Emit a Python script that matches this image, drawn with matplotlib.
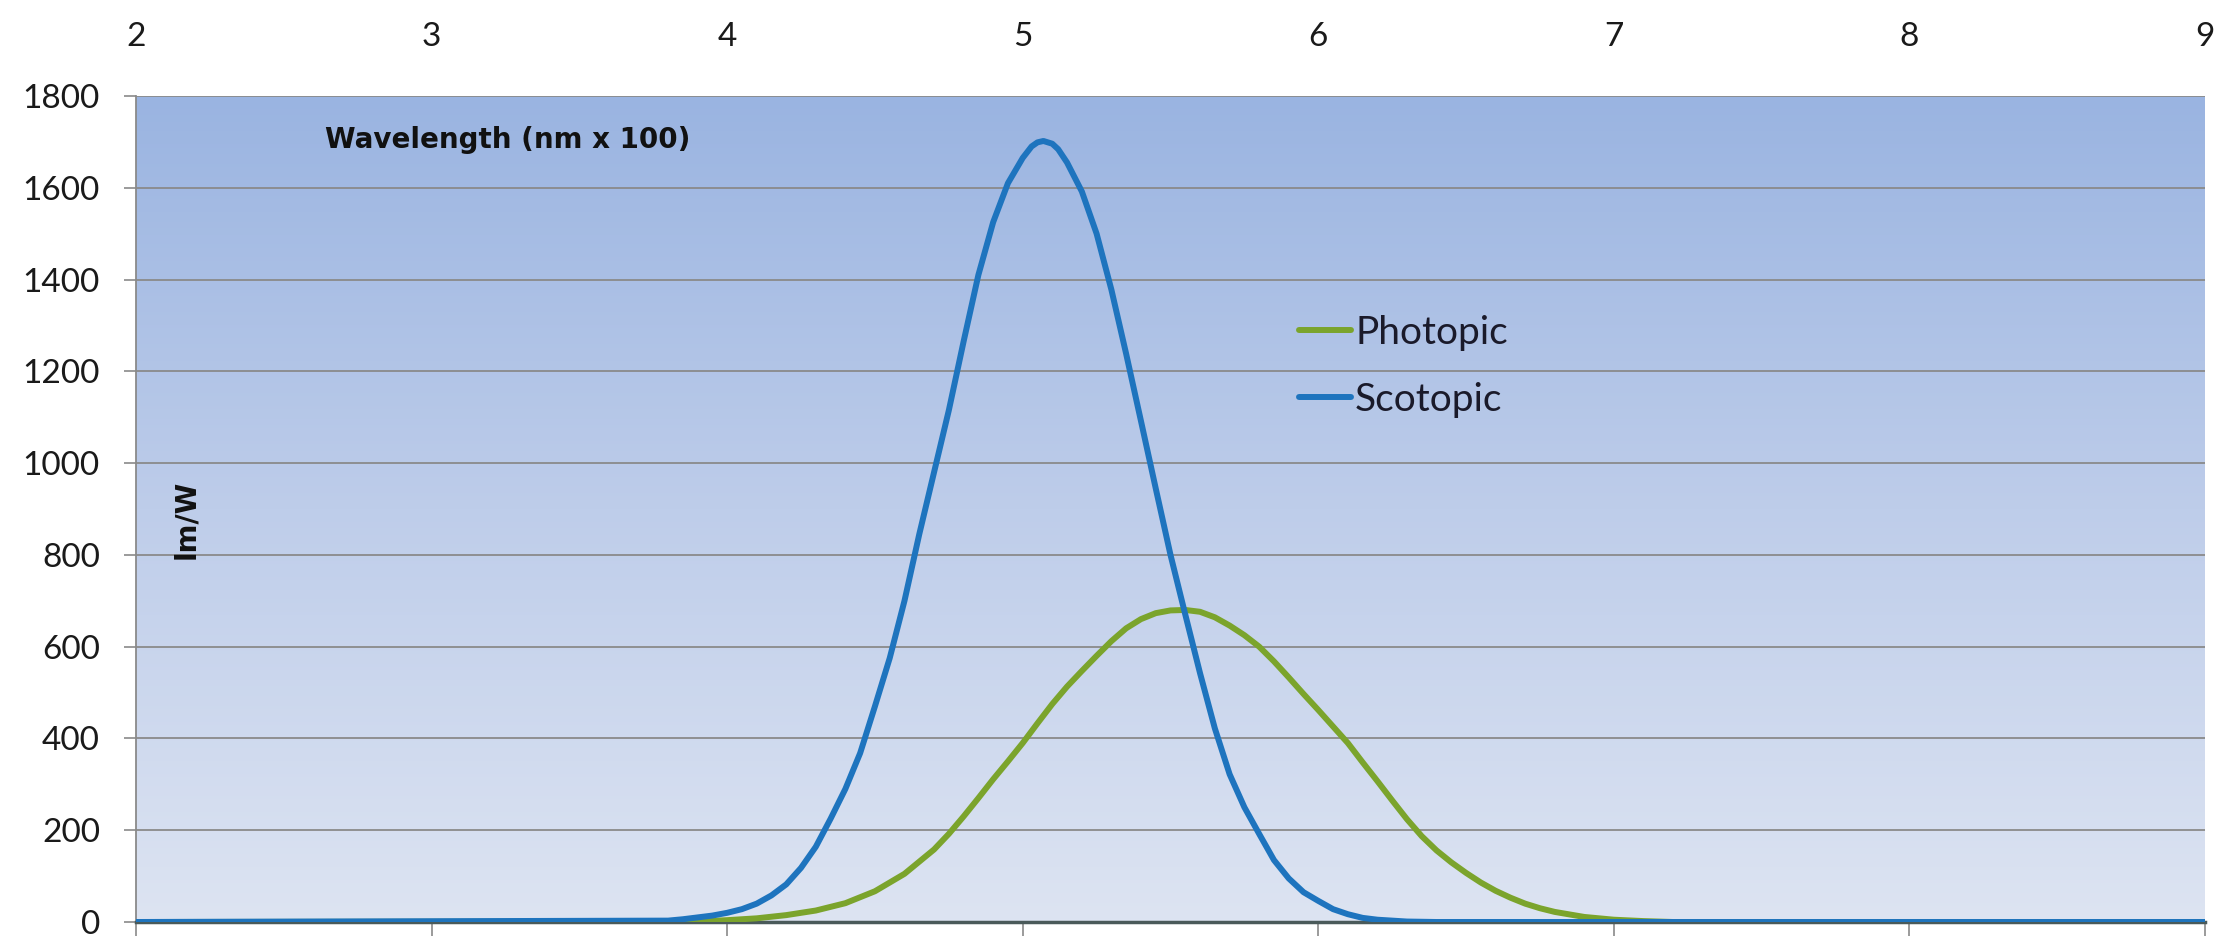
import numpy as np
import matplotlib
matplotlib.use("Agg")
import matplotlib.pyplot as plt
from matplotlib.colors import LinearSegmentedColormap

# ---- data ----
scotopic_x = [2.0, 3.80, 3.85, 3.90, 3.95, 4.00, 4.05, 4.10, 4.15, 4.20, 4.25, 4.30, 4.35,
              4.40, 4.45, 4.50, 4.55, 4.60, 4.65, 4.70, 4.75, 4.80, 4.85, 4.90, 4.95,
              5.00, 5.03, 5.05, 5.07, 5.10, 5.12, 5.15, 5.20, 5.25, 5.30, 5.35, 5.40,
              5.45, 5.50, 5.55, 5.60, 5.65, 5.70, 5.75, 5.80, 5.85, 5.90, 5.95, 6.00,
              6.05, 6.10, 6.15, 6.20, 6.30, 6.40, 9.0]
scotopic_y = [0, 3, 6, 10, 14, 20, 28, 40, 58, 82, 118, 164, 225,
              290, 368, 470, 575, 700, 845, 980, 1115, 1265, 1410, 1525, 1610,
              1665, 1690, 1699, 1702, 1696, 1684, 1655, 1592, 1500, 1378, 1238, 1092,
              945, 800, 670, 542, 422, 322, 250, 192, 135, 95, 65, 46,
              28, 17, 9, 5, 1, 0, 0]

photopic_x = [2.0, 3.90, 4.00, 4.10, 4.20, 4.30, 4.40, 4.50, 4.60, 4.70, 4.75, 4.80, 4.85,
              4.90, 4.95, 5.00, 5.05, 5.10, 5.15, 5.20, 5.25, 5.30, 5.35, 5.40, 5.45,
              5.50, 5.55, 5.60, 5.65, 5.70, 5.75, 5.80, 5.85, 5.90, 5.95, 6.00, 6.05,
              6.10, 6.15, 6.20, 6.25, 6.30, 6.35, 6.40, 6.45, 6.50, 6.55, 6.60, 6.65,
              6.70, 6.75, 6.80, 6.90, 7.00, 7.10, 7.20, 9.0]
photopic_y = [0, 1, 4, 8, 15, 25, 41, 67, 105, 158, 192, 230, 270,
              311, 350, 390, 433, 475, 513, 547, 580, 612, 640, 660, 673,
              679, 680, 676, 664, 646, 625, 600, 568, 533, 497, 462, 426,
              390, 348, 307, 265, 224, 187, 156, 130, 107, 86, 68, 53,
              40, 30, 22, 11, 5, 2, 0, 0]

x_ticks = [2, 3, 4, 5, 6, 7, 8, 9]
y_ticks = [0, 200, 400, 600, 800, 1000, 1200, 1400, 1600, 1800]
series_names = ["Photopic", "Scotopic"]

# ---- styling ----
GREEN = "#7BA42C"
BLUE = "#1E74BE"
fontfam = ["Lato", "DejaVu Sans"]
boldfam = ["DejaVu Sans"]

fig = plt.figure(figsize=(22.31, 9.42), dpi=100)
W, H = 2231, 942
left, right, top, bottom = 136, 2205, 96, 922
ax = fig.add_axes([left / W, 1 - bottom / H, (right - left) / W, (bottom - top) / H])

# gradient background
cmap = LinearSegmentedColormap.from_list("bg", ["#DDE4F2", "#BECDEA", "#9AB4E1"])
grad = np.linspace(0, 1, 256)[:, None]
ax.imshow(grad, extent=[0, 1, 0, 1], transform=ax.transAxes, aspect="auto",
          cmap=cmap, origin="lower", zorder=0)

# gridlines
for yv in y_ticks[1:]:
    ax.axhline(yv, color="#8A8A8A", lw=1.3, zorder=1)

ax.plot(photopic_x, photopic_y, color=GREEN, lw=4.3, label=series_names[0],
        zorder=3, solid_capstyle="round", solid_joinstyle="round")
ax.plot(scotopic_x, scotopic_y, color=BLUE, lw=4.3, label=series_names[1],
        zorder=4, solid_capstyle="round", solid_joinstyle="round")

ax.set_xlim(2, 9)
ax.set_ylim(0, 1800)

ax.set_xticks(x_ticks)
ax.set_yticks(y_ticks)
ax.set_xticklabels([str(t) for t in x_ticks])
ax.tick_params(axis="x", bottom=True, top=False, labelbottom=False, labeltop=True,
               length=10, width=1.2, color="#8A8A8A", pad=22, labelsize=24)
ax.tick_params(axis="y", left=True, length=9, width=1.2, color="#8A8A8A",
               pad=17, labelsize=24)
for lab in ax.get_xticklabels() + ax.get_yticklabels():
    lab.set_fontfamily(fontfam)
    lab.set_color("#1A1A1A")

for s in ["top", "right"]:
    ax.spines[s].set_visible(False)
ax.spines["left"].set_color("#8A8A8A")
ax.spines["left"].set_linewidth(1.3)
ax.spines["bottom"].set_color("#4A5A5A")
ax.spines["bottom"].set_linewidth(2.5)

ax.text(0.0913, 0.947, "Wavelength (nm x 100)", transform=ax.transAxes,
        fontsize=20, fontweight="bold", family=boldfam, va="center", ha="left",
        color="#111111", zorder=5)
ax.text(0.024, 0.487, "lm/W", transform=ax.transAxes, rotation=90,
        fontsize=20, fontweight="bold", family=boldfam, va="center", ha="center",
        color="#111111", zorder=5)

leg = ax.legend(loc="center left", bbox_to_anchor=(0.562, 0.673), frameon=False,
                prop={"family": fontfam, "size": 28}, handlelength=1.35,
                handletextpad=0.1, labelspacing=0.8, borderpad=0, borderaxespad=0)
for t in leg.get_texts():
    t.set_color("#1A1A2A")

fig.savefig("out.png", dpi=100)
